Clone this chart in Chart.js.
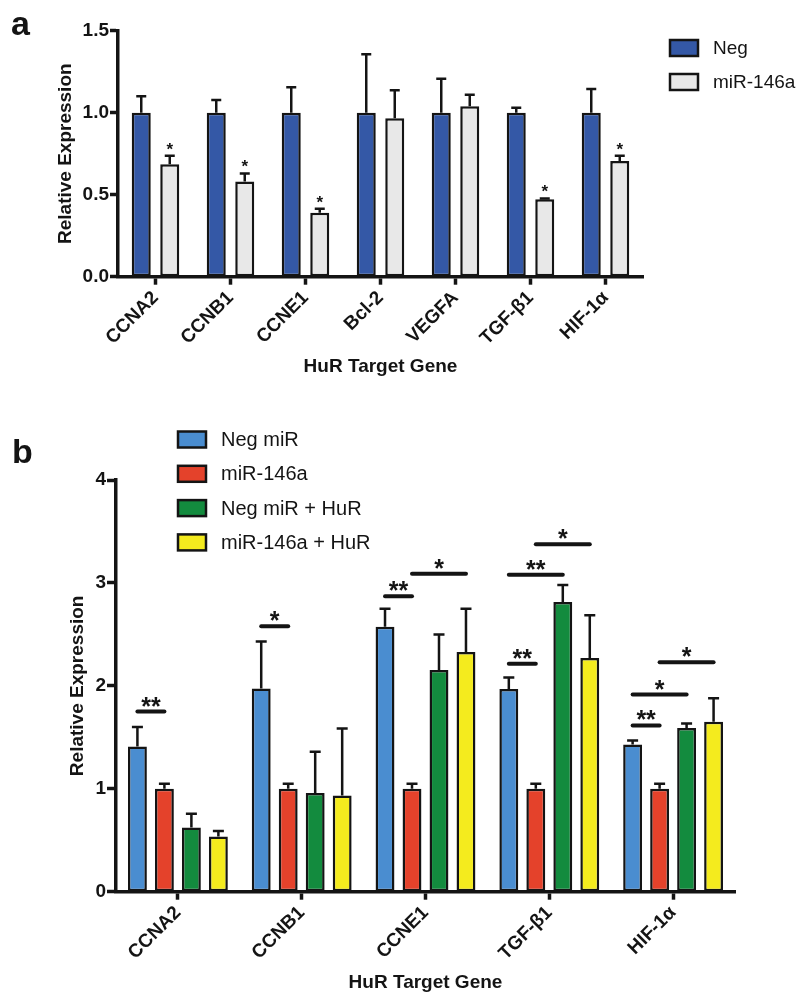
<!DOCTYPE html>
<html><head><meta charset="utf-8">
<script src="https://cdn.jsdelivr.net/npm/chart.js@4/dist/chart.umd.min.js"></script>
<style>
html,body{margin:0;padding:0;background:#fff;}
#wrap{position:relative;width:800px;height:995px;overflow:hidden;background:#fff;}
canvas{position:absolute;left:0;}
</style></head><body>
<div id="wrap">
<canvas id="ca" width="800" height="400" style="top:0px;width:800px;height:400px"></canvas>
<canvas id="cb" width="800" height="595" style="top:400px;width:800px;height:595px"></canvas>
</div>
<script>
// ---------- Panel a data ----------
const genesA = ['CCNA2','CCNB1','CCNE1','Bcl-2','VEGFA','TGF-β1','HIF-1α'];
const negA = [1, 1, 1, 1, 1, 1, 1];
const negAErr = [0.10, 0.077, 0.155, 0.356, 0.207, 0.03, 0.145];
const mirA = [0.685, 0.58, 0.39, 0.966, 1.04, 0.472, 0.705];
const mirAErr = [0.053, 0.05, 0.025, 0.171, 0.07, 0.005, 0.033];
const sigA = ['*', '*', '*', '', '', '*', '*'];
const yMaxA = 1.5, yStepA = 0.5;

// ---------- Panel b data ----------
const genesB = ['CCNA2','CCNB1','CCNE1','TGF-β1','HIF-1α'];
const negMiR = [1.41, 1.975, 2.573, 1.97, 1.43];
const negMiRErr = [0.19, 0.455, 0.177, 0.11, 0.04];
const mir146a = [1, 1, 1, 1, 1];
const mir146aErr = [0.05, 0.05, 0.05, 0.05, 0.05];
const negMiRHuR = [0.624, 0.96, 2.153, 2.815, 1.59];
const negMiRHuRErr = [0.133, 0.40, 0.347, 0.165, 0.045];
const mir146aHuR = [0.537, 0.934, 2.33, 2.27, 1.65];
const mir146aHuRErr = [0.053, 0.651, 0.42, 0.415, 0.23];
const yMaxB = 4, yStepB = 1;

// significance brackets (panel b): category, from series, to series, level, label
const sigCat   = [0, 1, 2, 2, 3, 3, 3, 4, 4, 4];
const sigFrom  = [0, 0, 0, 1, 0, 0, 1, 0, 0, 1];
const sigTo    = [1, 1, 1, 3, 1, 2, 3, 1, 2, 3];
const sigLevel = [1.75, 2.58, 2.87, 3.09, 2.215, 3.08, 3.375, 1.615, 1.915, 2.23];
const sigText  = ['**', '*', '**', '*', '**', '**', '*', '**', '*', '*'];

const FAM = '"Liberation Sans", Arial, Helvetica, sans-serif';
const INK = '#141414';
Chart.defaults.font.family = FAM;
Chart.defaults.color = INK;

const errorBars = {
  id: 'errorBars',
  afterDatasetsDraw(chart, args, o) {
    const ctx = chart.ctx, ys = chart.scales.y;
    ctx.save();
    ctx.strokeStyle = INK; ctx.lineWidth = o.lineWidth; ctx.lineCap = 'butt';
    chart.data.datasets.forEach((ds, di) => {
      const meta = chart.getDatasetMeta(di);
      meta.data.forEach((bar, i) => {
        const topV = ds.data[i] + ds.errors[i];
        const top = ys.getPixelForValue(topV);
        ctx.beginPath();
        ctx.moveTo(bar.x, bar.y); ctx.lineTo(bar.x, top);
        ctx.moveTo(bar.x - o.cap / 2, top); ctx.lineTo(bar.x + o.cap / 2, top);
        ctx.stroke();
        if (ds.sig && ds.sig[i]) {
          ctx.fillStyle = INK; ctx.font = o.starFont;
          ctx.textAlign = 'center'; ctx.textBaseline = 'alphabetic';
          ctx.fillText(ds.sig[i], bar.x, top + o.starDy);
        }
      });
    });
    ctx.restore();
  }
};

const boxLegend = {
  id: 'boxLegend',
  afterDraw(chart, args, o) {
    const ctx = chart.ctx;
    ctx.save();
    chart.data.datasets.forEach((ds, i) => {
      const cy = o.y + i * o.gap;
      ctx.fillStyle = ds.backgroundColor;
      ctx.fillRect(o.x, cy - o.h / 2, o.w, o.h);
      ctx.lineWidth = o.lw; ctx.strokeStyle = INK;
      ctx.strokeRect(o.x, cy - o.h / 2, o.w, o.h);
      ctx.fillStyle = INK; ctx.font = o.font;
      ctx.textAlign = 'left'; ctx.textBaseline = 'middle';
      ctx.fillText(ds.label, o.x + o.w + o.tg, cy + 1);
    });
    ctx.restore();
  }
};

const panelLabel = {
  id: 'panelLabel',
  afterDraw(chart, args, o) {
    const ctx = chart.ctx;
    ctx.save();
    ctx.fillStyle = INK; ctx.font = 'bold 34px ' + FAM;
    ctx.textAlign = 'left'; ctx.textBaseline = 'alphabetic';
    ctx.fillText(o.text, o.x, o.y);
    ctx.restore();
  }
};

const sigBrackets = {
  id: 'sigBrackets',
  afterDraw(chart, args, o) {
    if (!o.cat) return;
    const ctx = chart.ctx, ys = chart.scales.y;
    ctx.save();
    ctx.strokeStyle = INK; ctx.lineWidth = 4; ctx.lineCap = 'round';
    ctx.fillStyle = INK; ctx.font = 'bold 25px ' + FAM;
    ctx.textAlign = 'center'; ctx.textBaseline = 'alphabetic';
    for (let k = 0; k < o.cat.length; k++) {
      const b1 = chart.getDatasetMeta(o.from[k]).data[o.cat[k]];
      const b2 = chart.getDatasetMeta(o.to[k]).data[o.cat[k]];
      const py = ys.getPixelForValue(o.level[k]);
      ctx.beginPath(); ctx.moveTo(b1.x, py); ctx.lineTo(b2.x, py); ctx.stroke();
      ctx.fillText(o.text[k], (b1.x + b2.x) / 2, py + 3);
    }
    ctx.restore();
  }
};

function axisCommon(yTitlePad, yWidth, xHeight, tickLenY, fmt, maxV, step) {
  return {
    x: {
      grid: { display: true, drawOnChartArea: false, drawTicks: true, offset: false,
              tickLength: 8, tickWidth: 3.5, tickColor: INK },
      border: { display: true, width: 3.5, color: INK },
      ticks: { autoSkip: false, minRotation: 45, maxRotation: 45, padding: 2,
               color: INK, font: { size: 19, weight: 'bold' } },
      title: { display: true, text: 'HuR Target Gene', color: INK,
               font: { size: 19, weight: 'bold' }, padding: { top: 0, bottom: 0 } },
      afterFit(s) { s.height = xHeight; }
    },
    y: {
      min: 0, max: maxV,
      grid: { display: true, drawOnChartArea: false, drawTicks: true,
              tickLength: tickLenY, tickWidth: 3.5, tickColor: INK },
      border: { display: true, width: 3.5, color: INK },
      ticks: { stepSize: step, padding: 1, color: INK, font: { size: 19, weight: 'bold' },
               callback: fmt },
      title: { display: true, text: 'Relative Expression', color: INK,
               font: { size: 19, weight: 'bold' }, padding: { top: yTitlePad, bottom: 0 } },
      afterFit(s) { s.width = yWidth; }
    }
  };
}

// ---------- Chart a ----------
new Chart(document.getElementById('ca'), {
  type: 'bar',
  data: {
    labels: genesA,
    datasets: [
      { label: 'Neg', data: negA, errors: negAErr, backgroundColor: '#3458a6',
        borderColor: INK, borderWidth: 2.5, borderSkipped: false },
      { label: 'miR-146a', data: mirA, errors: mirAErr, sig: sigA, backgroundColor: '#e8e8e8',
        borderColor: INK, borderWidth: 2.5, borderSkipped: false }
    ]
  },
  options: {
    responsive: false, animation: false, devicePixelRatio: 1,
    categoryPercentage: 0.76, barPercentage: 0.667,
    layout: { padding: { left: 0, top: 30.7, right: 157, bottom: 21.6 } },
    plugins: {
      legend: { display: false }, tooltip: { enabled: false },
      errorBars: { lineWidth: 2.5, cap: 10, starFont: 'bold 17px ' + FAM, starDy: -1 },
      boxLegend: { x: 670, y: 48, gap: 34, w: 28, h: 16, lw: 2.5, tg: 15, font: '19px ' + FAM },
      panelLabel: { text: 'a', x: 11, y: 35 }
    },
    scales: axisCommon(54, 118, 101.7, 8, v => v.toFixed(1), yMaxA, yStepA)
  },
  plugins: [errorBars, boxLegend, panelLabel]
});

// ---------- Chart b ----------
new Chart(document.getElementById('cb'), {
  type: 'bar',
  data: {
    labels: genesB,
    datasets: [
      { label: 'Neg miR', data: negMiR, errors: negMiRErr, backgroundColor: '#4a8dd0',
        borderColor: INK, borderWidth: 2.5, borderSkipped: false },
      { label: 'miR-146a', data: mir146a, errors: mir146aErr, backgroundColor: '#e4422b',
        borderColor: INK, borderWidth: 2.5, borderSkipped: false },
      { label: 'Neg miR + HuR', data: negMiRHuR, errors: negMiRHuRErr, backgroundColor: '#138b3e',
        borderColor: INK, borderWidth: 2.5, borderSkipped: false },
      { label: 'miR-146a + HuR', data: mir146aHuR, errors: mir146aHuRErr, backgroundColor: '#f4eb1e',
        borderColor: INK, borderWidth: 2.5, borderSkipped: false }
    ]
  },
  options: {
    responsive: false, animation: false, devicePixelRatio: 1,
    categoryPercentage: 0.872, barPercentage: 0.70,
    layout: { padding: { left: 0, top: 80, right: 65, bottom: 0.6 } },
    plugins: {
      legend: { display: false }, tooltip: { enabled: false },
      errorBars: { lineWidth: 2.5, cap: 11, starFont: 'bold 17px ' + FAM, starDy: -1 },
      boxLegend: { x: 178, y: 39.5, gap: 34.3, w: 28, h: 16, lw: 2.5, tg: 15, font: '20px ' + FAM },
      panelLabel: { text: 'b', x: 12, y: 63 },
      sigBrackets: { cat: sigCat, from: sigFrom, to: sigTo, level: sigLevel, text: sigText }
    },
    scales: axisCommon(66.6, 116, 102.7, 9, v => String(v), yMaxB, yStepB)
  },
  plugins: [errorBars, boxLegend, panelLabel, sigBrackets]
});
</script>
</body></html>
